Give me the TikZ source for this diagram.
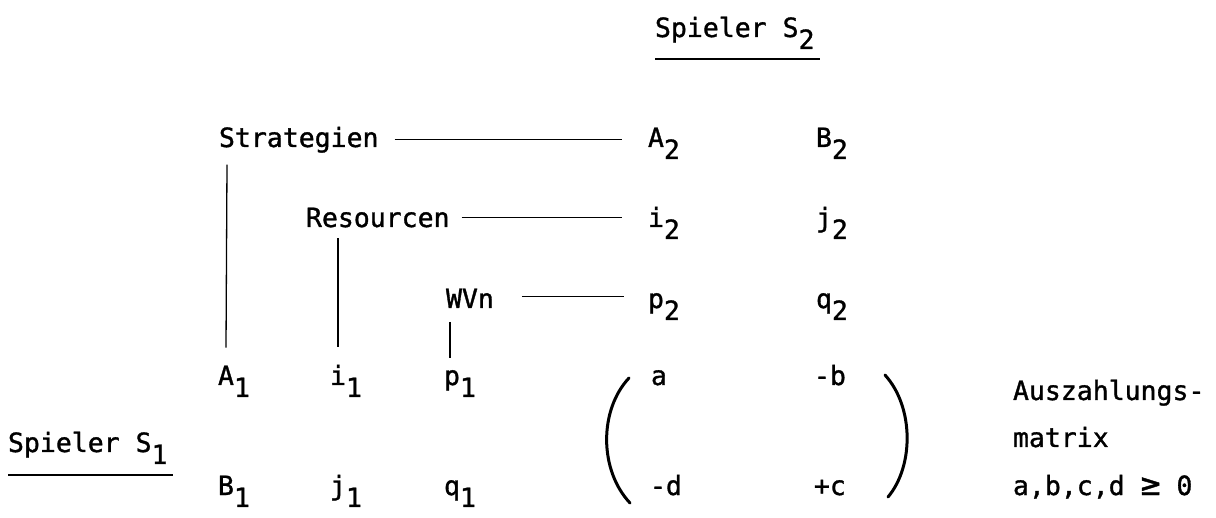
\documentclass[tikz,border=0pt]{standalone}
\usepackage{fontspec}
\setmainfont{DejaVu Sans Mono}[FakeBold=1.2]
\usetikzlibrary{calc}
\newcommand{\sbx}[1]{\raisebox{-12pt}{#1}}
\begin{document}
\begin{tikzpicture}[x=1pt,y=-1pt,
  txt/.style={anchor=base west,inner sep=0pt,outer sep=0pt,font=\fontsize{26.5}{31}\selectfont},
  conn/.style={line width=1.3pt},
  uline/.style={line width=2.2pt},
  paren/.style={line width=3pt,line cap=round}]
\useasboundingbox (0,0) rectangle (1216,518);
% titles
\node[txt] (s2) at (655,37) {Spieler S\sbx{2}};
\draw[uline] (s2.west |- 0,59) -- ($(s2.east |- 0,59)+(5,0)$);
\node[txt] (s1) at (8,452) {Spieler S\sbx{1}};
\draw[uline] (s1.west |- 0,475) -- ($(s1.east |- 0,475)+(5,0)$);
% rows
\node[txt] (strat) at (219,147) {Strategien};
\node[txt] (A2) at (648,147) {A\sbx{2}};
\node[txt] (B2) at (816,147) {B\sbx{2}};
\node[txt] (res) at (306,227) {Resourcen};
\node[txt] (i2) at (648,227) {i\sbx{2}};
\node[txt] (j2) at (816,227) {j\sbx{2}};
\node[txt] (wvn) at (446,308) {WVn};
\node[txt] (p2) at (648,308) {p\sbx{2}};
\node[txt] (q2) at (816,308) {q\sbx{2}};
\node[txt] (A1) at (218,385) {A\sbx{1}};
\node[txt] (i1) at (330,385) {i\sbx{1}};
\node[txt] (p1) at (444,385) {p\sbx{1}};
\node[txt] (B1) at (218,495) {B\sbx{1}};
\node[txt] (j1) at (330,495) {j\sbx{1}};
\node[txt] (q1) at (444,495) {q\sbx{1}};
% matrix
\node[txt] (ma) at (651,385) {a};
\node[txt] (mb) at (814,385) {-b};
\node[txt] (md) at (650,495) {-d};
\node[txt] (mc) at (814,495) {+c};
\coordinate (lpt) at (629,378);
\coordinate (lpb) at (630,503);
\coordinate (rpt) at (885,375);
\coordinate (rpb) at (888,497);
\draw[paren] (lpt) .. controls (599,410) and (599,470) .. (lpb);
\draw[paren] (rpt) .. controls (914,407) and (914,466) .. (rpb);
% right labels
\node[txt] (aus) at (1013,400) {Auszahlungs-};
\node[txt] (mat) at (1013,447) {matrix};
\node[txt] (cond) at (1013,495) {a,b,c,d {\fontsize{33}{31}\selectfont\char"2265}\ 0};
% horizontal connectors
\draw[conn] ($(strat.east)+(16,0)$) -- ($(strat.east -| A2.west)+(-26,0)$);
\draw[conn] ($(res.east)+(12,0)$) -- ($(res.east -| i2.west)+(-26,0)$);
\draw[conn] ($(wvn.east)+(28,-2)$) -- ($(wvn.east -| p2.west)+(-24,-2)$);
% vertical connectors
\draw[conn] ($(strat.south west)+(8,12)$) -- ($(A1.north west)+(8,-18)$);
\draw[conn] ($(i1.north west |- res.south)+(8,11)$) -- ($(i1.north west)+(8,-18)$);
\draw[conn] ($(wvn.south west)+(4,14)$) -- ($(wvn.south west |- p1.north)+(4,-12)$);
\end{tikzpicture}
\end{document}
